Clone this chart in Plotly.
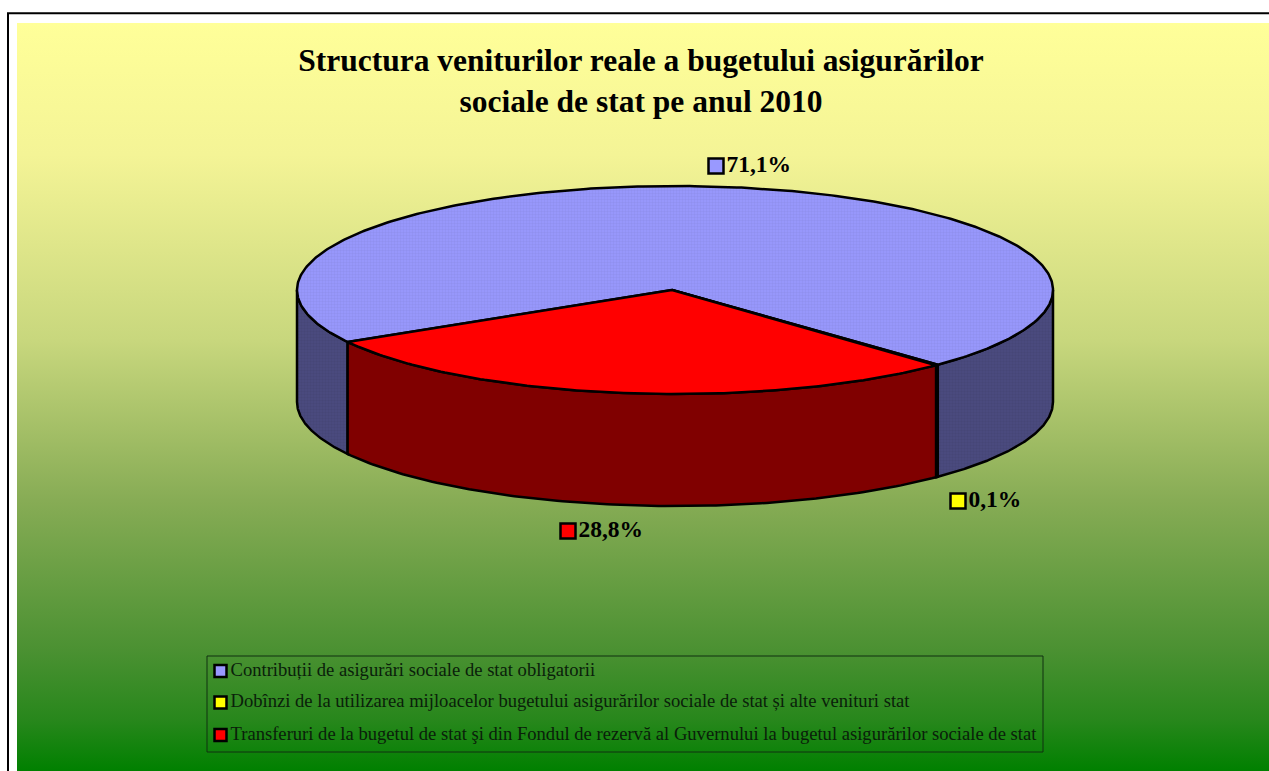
import numpy as np
import plotly.graph_objects as go

# --- data ---
categories = [
    "Contribuții de asigurări sociale de stat obligatorii",
    "Dobînzi de la utilizarea mijloacelor bugetului asigurărilor sociale de stat și alte venituri stat",
    "Transferuri de la bugetul de stat şi din Fondul de rezervă al Guvernului la bugetul asigurărilor sociale de stat",
]
values = [71.1, 0.1, 28.8]
top_colors = ["#9999FF", "#FFFF00", "#FF0000"]
side_colors = ["#4C4C80", "#808000", "#800000"]
title_text = "Structura veniturilor reale a bugetului asigurărilor<br>sociale de stat pe anul 2010"

# --- layout of the tilted pie (page pixels) ---
W, H = 1269, 771
CX, CY, RX, RY, DEPTH = 675, 290, 378, 104, 112
START_DEG = 150.0            # angle where slice 1 begins (screen, y down)
label_pos = [(716, 166), (958, 501), (568, 531)]
FONT = "Liberation Serif"

fig = go.Figure()

# frame + gradient background
fig.add_trace(go.Scatter(
    x=[17, W, W, 17, 17], y=[23, 23, H, H, 23], mode="lines", line=dict(width=0),
    fill="toself", hoverinfo="skip", showlegend=False,
    fillgradient=dict(type="vertical", start=23, stop=H,
                      colorscale=[[0, "#FFFF99"], [0.176, "#F4F496"], [0.424, "#C8D77D"],
                                  [0.638, "#87AC55"], [0.838, "#4B9132"], [0.931, "#28871C"],
                                  [1, "#008000"]]),
))

def ell(t):
    return CX + RX * np.cos(t), CY + RY * np.sin(t)

def pattern(i, shades):
    # the blue slice has a fine dither in the picture
    if i != 0:
        return None
    return dict(shape=".", bgcolor=shades[0], fgcolor=shades[1], size=3, solidity=0.5)

# slice angles: clockwise on screen (increasing t with y down)
fr = np.array(values) / sum(values)
edges = np.radians(START_DEG) + np.concatenate([[0], np.cumsum(fr)]) * 2 * np.pi
slices = [(edges[i], edges[i + 1]) for i in range(len(values))]

# sides: only the part of each slice facing the viewer (sin t > 0)
def visible(a, b):
    out = []
    for k in (0, 1, 2):
        lo, hi = max(a, 2 * k * np.pi), min(b, (2 * k + 1) * np.pi)
        if hi > lo:
            out.append((lo, hi))
    return out

for i, (a, b) in enumerate(slices):
    for lo, hi in visible(a, b):
        t = np.linspace(lo, hi, 120)
        x, y = ell(t)
        xs = np.concatenate([x, x[::-1], x[:1]])
        ys = np.concatenate([y, y[::-1] + DEPTH, y[:1]])
        fig.add_trace(go.Scatter(
            x=xs, y=ys, mode="lines", fill="toself", fillcolor=side_colors[i],
            fillpattern=pattern(i, ("#4C4C80", "#40406E")),
            line=dict(color="black", width=2.5), hoverinfo="skip", showlegend=False,
        ))

# top faces
for i, (a, b) in enumerate(slices):
    t = np.linspace(a, b, max(3, int((b - a) * 80)))
    x, y = ell(t)
    xs = np.concatenate([[CX - 3], x, [CX - 3]])
    ys = np.concatenate([[CY], y, [CY]])
    fig.add_trace(go.Scatter(
        x=xs, y=ys, mode="lines", fill="toself", fillcolor=top_colors[i],
        fillpattern=pattern(i, ("#9999FF", "#8888E0")),
        line=dict(color="black", width=2.5), hoverinfo="skip", showlegend=False,
    ))

# data labels with square keys
for i, v in enumerate(values):
    fig.add_trace(go.Scatter(
        x=[label_pos[i][0]], y=[label_pos[i][1]], mode="markers+text",
        marker=dict(symbol="square", size=15, color=top_colors[i], line=dict(color="black", width=2.5)),
        text=[f"{v:.1f}%".replace(".", ",")], textposition="middle right",
        textfont=dict(family=FONT, size=23.5, color="black", weight="bold"),
        hoverinfo="skip", showlegend=False,
    ))

# legend box
legend_y = [671, 702.5, 735]
fig.add_shape(type="rect", x0=207, x1=1043, y0=656, y1=752,
              line=dict(color="#103010", width=1), fillcolor="rgba(0,0,0,0)", layer="above")
for i, c in enumerate(categories):
    fig.add_trace(go.Scatter(
        x=[220.5], y=[legend_y[i]], mode="markers",
        marker=dict(symbol="square", size=12, color=top_colors[i], line=dict(color="black", width=2.5)),
        hoverinfo="skip", showlegend=False,
    ))
    fig.add_trace(go.Scatter(
        x=[230.5], y=[legend_y[i]], mode="text",
        text=[c], textposition="middle right",
        textfont=dict(family=FONT, size=18.6, color="#0A200A"),
        hoverinfo="skip", showlegend=False,
    ))

# outer frame (open on the right and bottom, as cropped in the picture)
fig.add_shape(type="path", path=f"M 8 {H} L 8 13.3 L {W} 13.3",
              line=dict(color="black", width=2), layer="above")

fig.update_layout(
    width=W, height=H, autosize=False,
    margin=dict(l=0, r=0, t=0, b=0),
    paper_bgcolor="white", plot_bgcolor="rgba(0,0,0,0)",
    showlegend=False,
    xaxis=dict(range=[0, W], visible=False, fixedrange=True),
    yaxis=dict(range=[H, 0], visible=False, fixedrange=True),
    title=dict(text=title_text, x=641 / W, xanchor="center", y=1 - 71 / H, yanchor="top",
               font=dict(family=FONT, size=31.5, color="black", weight="bold")),
)
fig.write_html("out.html", config={"displayModeBar": False},
               post_script="document.body.style.margin='0';document.body.style.overflow='hidden';")
